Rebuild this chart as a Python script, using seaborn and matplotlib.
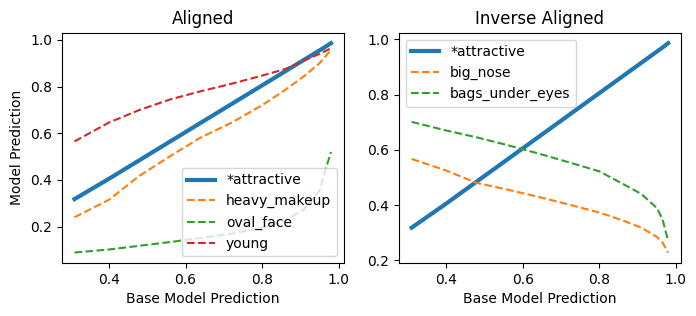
import seaborn as sns
import matplotlib.pyplot as plt
import numpy as np

# base model prediction bins (shared by all curves)
base_pred = [0.31, 0.40, 0.48, 0.56, 0.64, 0.72, 0.80, 0.86, 0.91, 0.95, 0.965, 0.98]

attractive = [0.318, 0.405, 0.485, 0.565, 0.645, 0.725, 0.805, 0.865, 0.915, 0.955, 0.970, 0.986]
heavy_makeup = [0.240, 0.315, 0.418, 0.502, 0.582, 0.645, 0.720, 0.785, 0.845, 0.900, 0.928, 0.957]
oval_face = [0.089, 0.102, 0.118, 0.134, 0.152, 0.170, 0.195, 0.225, 0.275, 0.354, 0.440, 0.520]
young = [0.565, 0.646, 0.700, 0.745, 0.780, 0.812, 0.847, 0.875, 0.912, 0.940, 0.952, 0.964]

big_nose = [0.567, 0.525, 0.480, 0.456, 0.430, 0.402, 0.373, 0.345, 0.318, 0.285, 0.265, 0.228]
bags_under_eyes = [0.701, 0.670, 0.645, 0.617, 0.587, 0.555, 0.522, 0.478, 0.440, 0.390, 0.350, 0.270]

colors = sns.color_palette("tab10")

fig, axes = plt.subplots(1, 2, figsize = (6.96, 3.16), dpi = 100)
plt.subplots_adjust(left = 0.0886, right = 0.9784, bottom = 0.1677, top = 0.8965, wspace = 0.195)

ax = axes[0]
sns.lineplot(x = base_pred, y = attractive, ax = ax, color = colors[0], linewidth = 3, label = "*attractive")
sns.lineplot(x = base_pred, y = heavy_makeup, ax = ax, color = colors[1], linestyle = "--", label = "heavy_makeup")
sns.lineplot(x = base_pred, y = oval_face, ax = ax, color = colors[2], linestyle = "--", label = "oval_face")
sns.lineplot(x = base_pred, y = young, ax = ax, color = colors[3], linestyle = "--", label = "young")
ax.set_title("Aligned")
ax.set_xlabel("Base Model Prediction")
ax.set_ylabel("Model Prediction")
ax.legend(loc = "lower right")

ax = axes[1]
sns.lineplot(x = base_pred, y = attractive, ax = ax, color = colors[0], linewidth = 3, label = "*attractive")
sns.lineplot(x = base_pred, y = big_nose, ax = ax, color = colors[1], linestyle = "--", label = "big_nose")
sns.lineplot(x = base_pred, y = bags_under_eyes, ax = ax, color = colors[2], linestyle = "--", label = "bags_under_eyes")
ax.set_title("Inverse Aligned")
ax.set_xlabel("Base Model Prediction")
ax.legend(loc = "upper left")

plt.savefig("out.png", dpi = 100)
plt.close()
